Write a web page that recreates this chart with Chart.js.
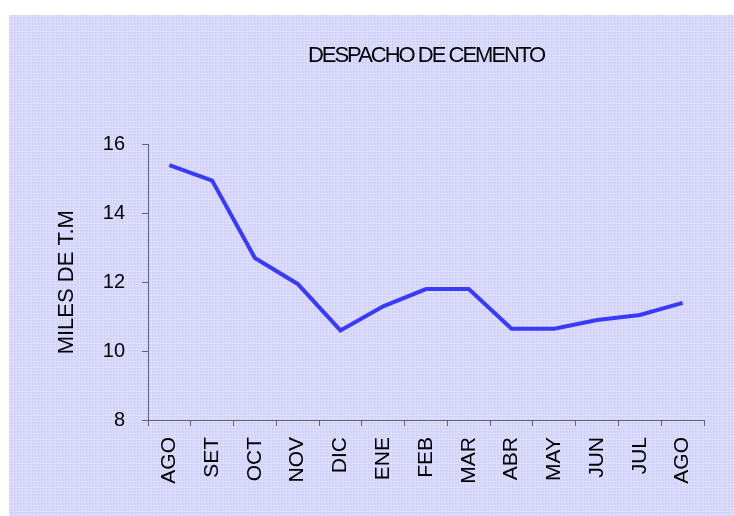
<!DOCTYPE html>
<html>
<head>
<meta charset="utf-8">
<script src="https://cdn.jsdelivr.net/npm/chart.js@4"></script>
<style>
  html, body { margin: 0; padding: 0; background: #ffffff; }
  #wrap { width: 734px; height: 516px; }
</style>
</head>
<body>
<div id="wrap"><canvas id="myChart" width="734" height="516"></canvas></div>
<script>
const months = ['AGO', 'SET', 'OCT', 'NOV', 'DIC', 'ENE', 'FEB', 'MAR', 'ABR', 'MAY', 'JUN', 'JUL', 'AGO'];
const despacho = [15.4, 14.95, 12.7, 11.95, 10.6, 11.3, 11.8, 11.8, 10.65, 10.65, 10.9, 11.05, 11.4];
const yTicks = [8, 10, 12, 14, 16];

const font = '"Liberation Sans", Arial, sans-serif';

// dotted lavender background, like the old spreadsheet fill
function makePattern(ctx) {
    let c = document.createElement('canvas');
    c.width = 3; c.height = 3;
    let p = c.getContext('2d');
    p.fillStyle = '#d2d2fa';
    p.fillRect(0, 0, 3, 3);
    p.fillStyle = '#eaeaff';
    p.fillRect(1, 1, 1, 1);
    p.fillStyle = '#dedeff';
    p.fillRect(0, 1, 1, 1);
    p.fillRect(1, 0, 1, 1);
    return ctx.createPattern(c, 'repeat');
}

const bgPlugin = {
    id: 'bgPattern',
    beforeDraw: (chart) => {
        let ctx = chart.ctx;
        ctx.save();
        ctx.fillStyle = makePattern(ctx);
        ctx.fillRect(9, 15, chart.width - 9, chart.height - 15);
        ctx.restore();
    },
    afterUpdate: (chart) => {
        // tighter letters for the title only
        let t = chart.titleBlock;
        if (t && !t._tight) {
            let d = t.draw.bind(t);
            t.draw = (area) => {
                chart.ctx.save();
                chart.ctx.letterSpacing = '-2px';
                d(area);
                chart.ctx.restore();
            };
            t._tight = true;
        }
    }
};

let ctx = document.getElementById('myChart').getContext('2d');
let myChart = new Chart(ctx, {
    type: 'line',
    data: {
        labels: months,
        datasets: [{
            label: 'Despacho',
            data: despacho,
            borderColor: '#3a3aff',
            backgroundColor: '#3a3aff',
            borderWidth: 4,
            pointRadius: 0,
            tension: 0,
            fill: false
        }]
    },
    options: {
        responsive: false,
        animation: false,
        layout: {
            padding: { top: 0, right: 30, bottom: 0, left: 0 }
        },
        plugins: {
            legend: { display: false },
            tooltip: { enabled: false },
            title: {
                display: true,
                fullSize: false,
                text: 'DESPACHO DE CEMENTO',
                color: '#000000',
                font: { family: font, size: 22, weight: 'normal' },
                padding: { top: 43, bottom: 75 }
            }
        },
        scales: {
            x: {
                offset: true,
                grid: {
                    offset: true,
                    drawOnChartArea: false,
                    drawTicks: true,
                    tickLength: 6,
                    color: '#666666'
                },
                border: { color: '#666666', width: 1 },
                ticks: {
                    color: '#000000',
                    font: { family: font, size: 21 },
                    minRotation: 90,
                    maxRotation: 90,
                    padding: 11,
                    autoSkip: false
                },
                afterFit: (scale) => { scale.height = 96; }
            },
            y: {
                min: 8,
                max: 16,
                afterBuildTicks: (scale) => {
                    scale.ticks = yTicks.map(v => ({ value: v }));
                },
                grid: {
                    drawOnChartArea: false,
                    drawTicks: true,
                    tickLength: 6,
                    color: '#666666'
                },
                border: { color: '#666666', width: 1 },
                ticks: {
                    color: '#000000',
                    font: { family: font, size: 20 },
                    padding: 17
                },
                title: {
                    display: true,
                    text: 'MILES DE T.M',
                    color: '#000000',
                    font: { family: font, size: 22 },
                    padding: { top: 54, bottom: 0 }
                },
                afterFit: (scale) => { scale.width = 148; }
            }
        }
    },
    plugins: [bgPlugin]
});
</script>
</body>
</html>
